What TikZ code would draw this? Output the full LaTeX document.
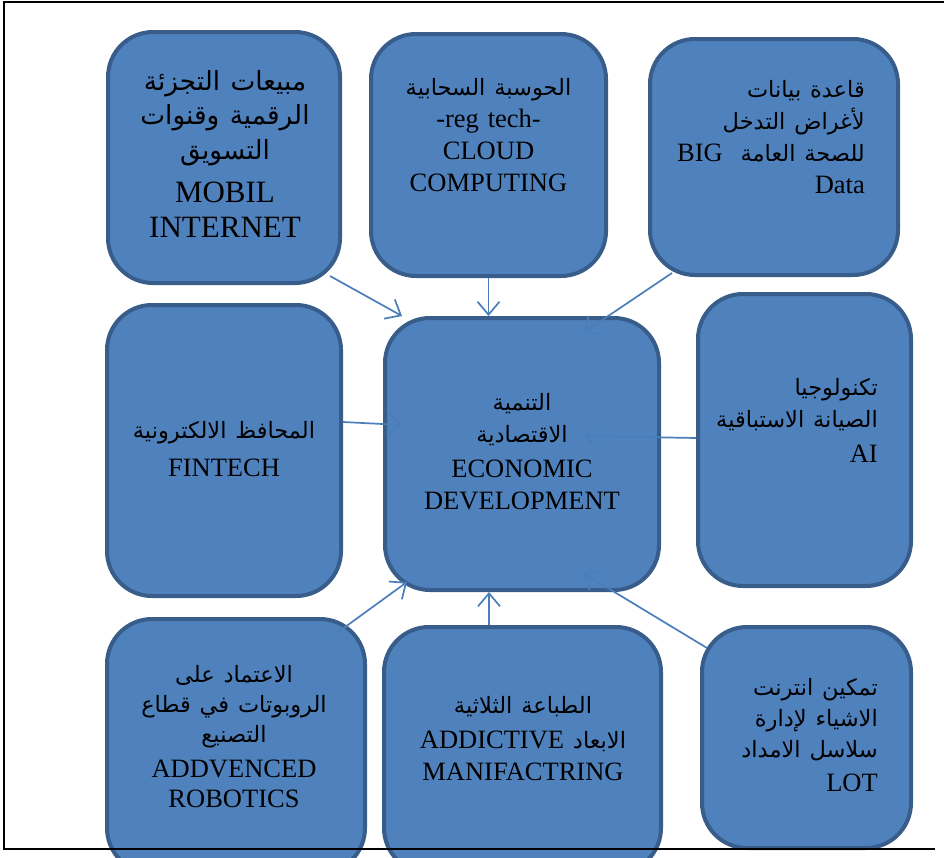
\documentclass[tikz,border=0pt]{standalone}
\usepackage{fontspec}
\setmainfont{Liberation Serif}
\newfontfamily\arfont[Script=Arabic,Scale=0.85]{DejaVu Sans}
\TeXXeTstate=1
\usetikzlibrary{arrows.meta,calc}

\definecolor{boxfill}{HTML}{4F81BD}
\definecolor{boxline}{HTML}{385D8A}
\definecolor{feedblue}{HTML}{4A7EBB}

% one right-to-left Arabic line
\newcommand\arline[1]{\beginR{\arfont #1}\endR}

\tikzset{
  box/.style={draw=boxline, fill=boxfill, line width=4pt, rounded corners=45pt,
    inner sep=0pt},
  txt/.style={inner sep=0pt, text width=#1, align=center, anchor=base},
  rtxt/.style={inner sep=0pt, text width=#1, align=right, anchor=base east},
  std/.style={font=\fontsize{26.5}{32}\selectfont},
  feed/.style={draw=feedblue, line width=1.7pt,
    -{Straight Barb[length=13pt,width=22pt]}},
  frame/.style={draw=black, line width=2pt}
}

\begin{document}
\begin{tikzpicture}[x=1pt, y=-1pt]
\useasboundingbox (0,0) rectangle (944,857);
\clip (0,0) rectangle (944,857);

% outer frame (top and left sides)
\draw[frame] (944,2) -- (4,2) -- (4,849);

% boxes
\node[box, minimum width=232pt, minimum height=251pt] (mobil)   at (224,157.5) {};
\node[box, minimum width=235pt, minimum height=242pt] (cloud)   at (488.5,155) {};
\node[box, minimum width=248pt, minimum height=236pt] (bigdata) at (774,157) {};
\node[box, minimum width=234pt, minimum height=291pt] (fintech) at (224,450.5) {};
\node[box, minimum width=274pt, minimum height=272pt] (econ)    at (522,454) {};
\node[box, minimum width=213pt, minimum height=292pt] (ai)      at (804.5,440) {};
\node[box, minimum width=258pt, minimum height=254pt] (robot)   at (236,746) {};
\node[box, minimum width=277pt, minimum height=246pt] (addict)  at (522.5,750) {};
\node[box, minimum width=209pt, minimum height=221pt] (lot)     at (806.5,737.5) {};

% bottom side of the frame
\draw[frame] (3,849) -- (935,849);

% box texts
\node[txt=230pt, font=\fontsize{31}{34.5}\selectfont] (mobil-t) at (225,90)
  {\arline{مبيعات التجزئة}\\ \arline{الرقمية وقنوات}\\ \arline{التسويق}\\[9pt]
   MOBIL\\ INTERNET};
\node[txt=230pt, std] (cloud-t) at (488.5,95)
  {\arline{الحوسبة السحابية}\\ -reg tech-\\ CLOUD\\ COMPUTING};
\node[rtxt=230pt, std] (bigdata-t) at (865,97)
  {\arline{قاعدة بيانات}\\ \arline{لأغراض التدخل}\\
   \beginR{\arfont للصحة العامة}\ \ \beginL BIG\endL\endR\\ Data};
\node[txt=230pt, std] (fintech-t) at (224,438)
  {\arline{المحافظ الالكترونية}\\[6pt] FINTECH};
\node[txt=270pt, std] (econ-t) at (522,410)
  {\arline{التنمية}\\ \arline{الاقتصادية}\\[3pt] ECONOMIC\\ DEVELOPMENT};
\node[rtxt=200pt, std] (ai-t) at (878,395)
  {\arline{تكنولوجيا}\\ \arline{الصيانة الاستباقية}\\[3pt] AI};
\node[txt=250pt, std, font=\fontsize{26.5}{30}\selectfont] (robot-t) at (234,682)
  {\arline{الاعتماد على}\\ \arline{الروبوتات في قطاع}\\ \arline{التصنيع}\\[5pt]
   ADDVENCED\\ ROBOTICS};
\node[txt=270pt, std] (addict-t) at (523,713)
  {\arline{الطباعة الثلاثية}\\[3pt]
   \beginR{\arfont الابعاد} \beginL ADDICTIVE\endL\endR\\ MANIFACTRING};
\node[rtxt=200pt, std, font=\fontsize{26.5}{31}\selectfont] (lot-t) at (878,695)
  {\arline{تمكين انترنت}\\ \arline{الاشياء لإدارة}\\ \arline{سلاسل الامداد}\\[3pt] LOT};

% connectors into the central box
\draw[feed] ($(mobil.south east)+(-12,-9)$) -- ($(econ.north west)+(19,0)$);
\draw[feed] (cloud.south) -- (cloud.south |- econ.north);
\draw[feed] ($(bigdata.south west)+(24,-4)$) -- ($(econ.north east)+(-78,17)$);
\draw[feed] ($(fintech.east)+(0,-28.5)$) -- ($(econ.west)+(19,-29)$);
\draw[feed] ($(ai.west)+(0,-2)$) -- ($(econ.east)+(-78,-18)$);
\draw[feed] ($(robot.north east)+(-37,21)$) -- ($(econ.south west)+(24,-10)$);
\coordinate (addict-top) at ($(addict.north)+(-33.5,0)$);
\draw[feed] (addict-top) -- (addict-top |- econ.south);
\draw[feed] ($(lot.north west)+(7,23)$) -- ($(econ.south east)+(-78,-19)$);
\end{tikzpicture}
\end{document}
